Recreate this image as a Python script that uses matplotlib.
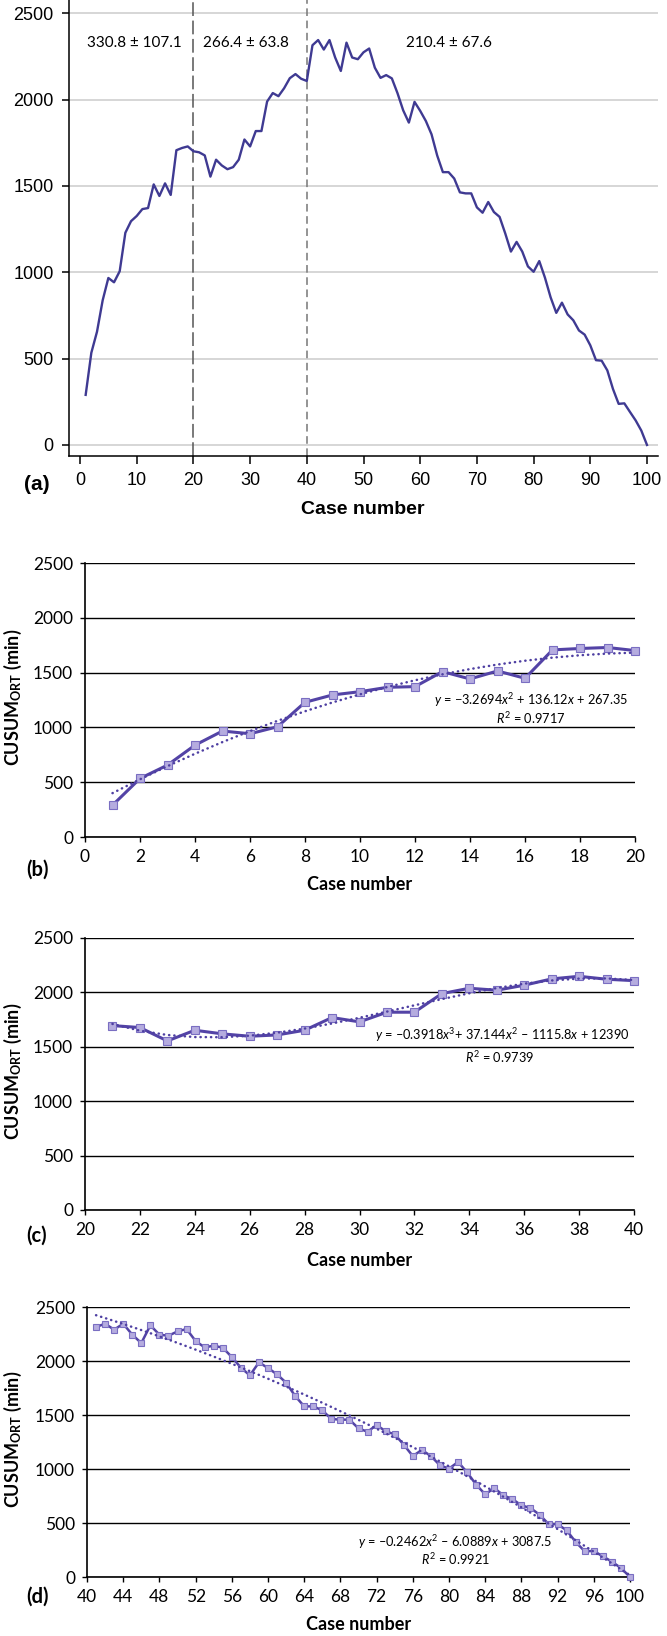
import numpy as np
import matplotlib
matplotlib.use("Agg")
import matplotlib.pyplot as plt

# CUSUM of operating room time (cases 1-100)
cusum_1_20 = [290, 534, 656, 838, 967, 942, 1006, 1229, 1296, 1326,
              1366, 1372, 1509, 1442, 1515, 1448, 1707, 1720, 1729, 1701]
cusum_21_40 = [1695, 1677, 1554, 1652, 1619, 1597, 1609, 1652, 1769, 1729,
               1818, 1818, 1989, 2038, 2020, 2066, 2124, 2148, 2121, 2108]
cusum_41_100 = [2315, 2345, 2290, 2345, 2244, 2166, 2330, 2244, 2234, 2274,
                2296, 2185, 2126, 2142, 2123, 2037, 1938, 1867, 1987, 1935,
                1876, 1799, 1676, 1580, 1580, 1543, 1463, 1457, 1457, 1376,
                1345, 1407, 1349, 1321, 1225, 1120, 1176, 1120, 1034, 1003,
                1065, 969, 855, 765, 824, 756, 722, 663, 639, 577,
                491, 488, 432, 324, 238, 241, 191, 142, 83, 0]
cusum_all = cusum_1_20 + cusum_21_40 + cusum_41_100
cases_all = list(range(1, 101))

phase_breaks = [20, 40]
phase_labels = ["330.8 ± 107.1", "266.4 ± 63.8", "210.4 ± 67.6"]

# trendline coefficients as printed on the panels
trend_b = [-3.2694, 136.12, 267.35]
trend_c = [-0.3918, 37.144, -1115.8, 12390]
trend_d = [-0.2462, -6.0889, 3087.5]
eq_b = r"$y$ = −3.2694$x^2$ + 136.12$x$ + 267.35"
eq_c = r"$y$ = –0.3918$x^3$+ 37.144$x^2$ – 1115.8$x$ + 12390"
eq_d = r"$y$ = –0.2462$x^2$ – 6.0889$x$ + 3087.5"
r2_b = r"$R^2$ = 0.9717"
r2_c = r"$R^2$ = 0.9739"
r2_d = r"$R^2$ = 0.9921"

W, H = 667, 1636
ARIAL = ["Liberation Sans", "DejaVu Sans"]
CALIBRI = ["Lato", "DejaVu Sans"]

plt.rcParams["mathtext.fontset"] = "custom"
plt.rcParams["mathtext.rm"] = "Lato"
plt.rcParams["mathtext.it"] = "Lato:italic"
plt.rcParams["mathtext.bf"] = "Lato:bold"
plt.rcParams["font.family"] = CALIBRI


def rect(l, t, r, b):
    return [l / W, 1 - b / H, (r - l) / W, (b - t) / H]


def fxy(px, py):
    return px / W, 1 - py / H


fig = plt.figure(figsize=(W / 100, H / 100), dpi=100)
fig.patch.set_facecolor("white")

# ── (a) whole series ──
ax = fig.add_axes(rect(69, 0, 658, 456))
ax.plot(cases_all, cusum_all, color="#3f3a92", lw=1.7, zorder=3)
ax.set_xlim(-1.94, 101.94)
ax.set_ylim(-64, 2577)
ax.set_xticks(range(0, 101, 10))
ax.set_yticks(range(0, 2501, 500))
ax.grid(axis="y", color="#cfcfcf", lw=1.2)
ax.set_axisbelow(True)
for s in ["top", "right"]:
    ax.spines[s].set_visible(False)
for s in ["left", "bottom"]:
    ax.spines[s].set_color("black")
    ax.spines[s].set_linewidth(1.1)
ax.tick_params(axis="y", direction="out", length=5, width=1.1, pad=6, labelsize=13)
ax.tick_params(axis="x", direction="out", length=5.8, width=1.1, pad=6, labelsize=13)
for lab in ax.get_xticklabels() + ax.get_yticklabels():
    lab.set_family(ARIAL)
ax.axvline(phase_breaks[0], color="#555555", lw=1.1, dashes=(9, 3), zorder=2)
ax.axvline(phase_breaks[1], color="#777777", lw=1.1, dashes=(5, 3), zorder=2)
for xl, txt in zip([9.6, 29.3, 65.1], phase_labels):
    ax.text(xl, 2328, txt, ha="center", va="center", fontsize=11, family=CALIBRI)
fig.text(*fxy(24, 484), "(a)", ha="left", va="center", fontsize=15,
         fontweight="bold", family=ARIAL)
fig.text(*fxy(363, 509), "Case number", ha="center", va="center", fontsize=14,
         fontweight="bold", family=ARIAL)


# ── (b)-(d) phase panels with trendlines ──
def phase_panel(box, x, y, coeffs, xlim, xstep, eq, r2, eq_pos, r2_pos,
                tag, tag_y, xlabel_y, ms, lw):
    ax = fig.add_axes(rect(*box))
    ax.plot(x, y, color="#5343a6", lw=lw, marker="s", ms=ms,
            mfc="#b5acdf", mec="#7a6ec2", mew=0.8, zorder=3, clip_on=False)
    ax.plot(x, np.polyval(coeffs, x), color="#4e3fa2", lw=1.8,
            linestyle=(0, (0.1, 2.0)), dash_capstyle="round", zorder=4, clip_on=False)
    ax.set_xlim(*xlim)
    ax.set_ylim(0, 2500)
    ax.set_xticks(range(xlim[0], xlim[1] + 1, xstep))
    ax.set_yticks(range(0, 2501, 500))
    ax.grid(axis="y", color="black", lw=1.0)
    ax.set_axisbelow(True)
    for s in ["top", "right"]:
        ax.spines[s].set_visible(False)
    for s in ["left", "bottom"]:
        ax.spines[s].set_linewidth(1.2)
    ax.tick_params(direction="out", length=3.6, width=1.0, pad=5, labelsize=12.5)
    fig.text(*fxy(*eq_pos), eq, ha="center", va="center", fontsize=9.2)
    fig.text(*fxy(*r2_pos), r2, ha="center", va="center", fontsize=9.2)
    fig.text(*fxy(26, tag_y), tag, ha="left", va="center", fontsize=14.5, fontweight="bold")
    fig.text(*fxy((box[0] + box[2]) / 2, xlabel_y), "Case number", ha="center",
             va="center", fontsize=13, fontweight="bold")
    fig.text(*fxy(13, (box[1] + box[3]) / 2 - 3), r"CUSUM$_{\mathbf{ORT}}$ (min)",
             rotation=90, ha="center", va="center", fontsize=13, fontweight="bold")
    return ax


phase_panel((85, 563, 635, 837), cases_all[0:20], cusum_1_20, trend_b, (0, 20), 2,
            eq_b, r2_b, (531, 700), (531, 718), "(b)", 870, 884, 5.8, 2.2)
phase_panel((85, 938, 634, 1210), cases_all[20:40], cusum_21_40, trend_c, (20, 40), 2,
            eq_c, r2_c, (502, 1035), (500, 1057), "(c)", 1236, 1261, 5.8, 2.2)
phase_panel((87, 1307, 630, 1577), cases_all[40:100], cusum_41_100, trend_d, (40, 100), 4,
            eq_d, r2_d, (455, 1542), (455, 1559), "(d)", 1597, 1624, 4.6, 1.8)

fig.savefig("out.png", dpi=100)
